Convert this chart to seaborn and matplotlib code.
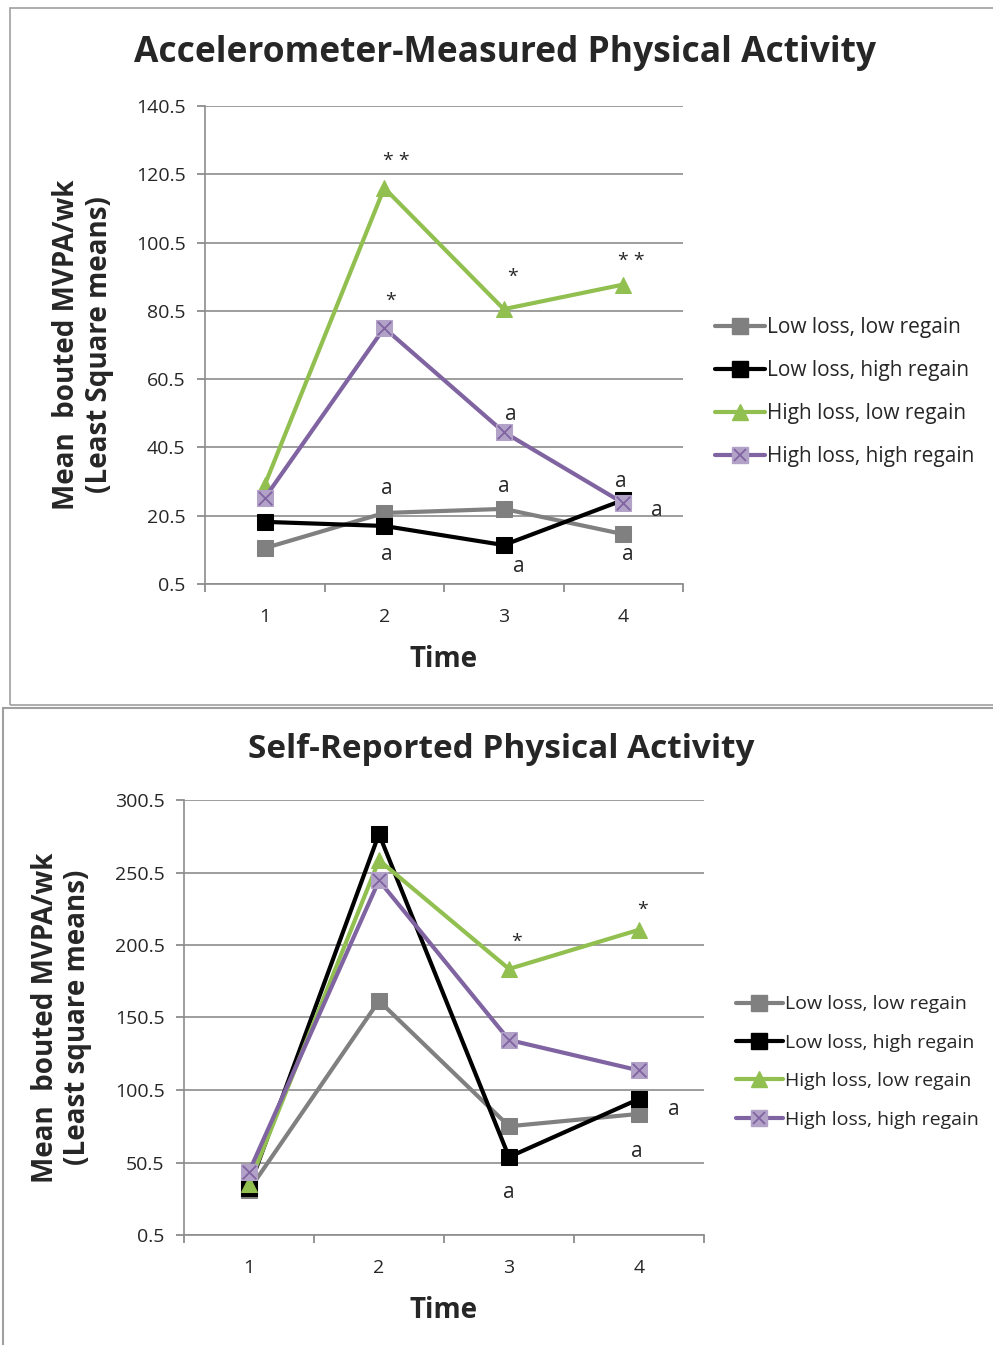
import pandas as pd
import matplotlib
matplotlib.use('Agg')
from matplotlib import pyplot as plt
from matplotlib.lines import Line2D
from matplotlib.patches import Rectangle
import seaborn as sns

sns.set_theme(style = 'white')
plt.rcParams['font.family'] = ['Open Sans', 'DejaVu Sans']

#data
groups = ['Low loss, low regain', 'Low loss, high regain', 'High loss, low regain', 'High loss, high regain']
times = [1, 2, 3, 4]

acc_low_low = [11.0, 21.3, 22.5, 15.1]
acc_low_high = [18.7, 17.5, 11.9, 25.1]
acc_high_low = [29.5, 116.5, 81.0, 88.2]
acc_high_high = [25.7, 75.5, 45.0, 24.2]

self_low_low = [31.5, 162.0, 75.5, 84.0]
self_low_high = [33.0, 277.0, 54.3, 94.3]
self_high_low = [35.5, 259.0, 184.0, 211.0]
self_high_high = [44.0, 245.0, 135.0, 114.0]

acc_ticks = [0.5, 20.5, 40.5, 60.5, 80.5, 100.5, 120.5, 140.5]
self_ticks = [0.5, 50.5, 100.5, 150.5, 200.5, 250.5, 300.5]

#annotations (text, time, value)
acc_notes = [('* *', 2.1, 124.5), ('*', 2.05, 83.5), ('*', 3.07, 90.5), ('* *', 4.07, 95.0),
             ('a', 3.06, 50.0), ('a', 2.02, 28.5), ('a', 3.0, 29.0), ('a', 3.98, 30.5),
             ('a', 4.28, 22.0), ('a', 2.02, 9.0), ('a', 3.13, 5.5), ('a', 4.04, 9.0)]
self_notes = [('*', 3.06, 203.0), ('*', 4.03, 225.0), ('a', 4.27, 87.0),
              ('a', 3.98, 58.0), ('a', 3.0, 30.0)]

colors = {groups[0]: '#808080', groups[1]: '#000000', groups[2]: '#92c050', groups[3]: '#8064a2'}
markers = {groups[0]: 's', groups[1]: 's', groups[2]: '^', groups[3]: 's'}
faces = {groups[0]: '#808080', groups[1]: '#000000', groups[2]: '#92c050', groups[3]: '#b3a2c7'}


def long_df(series):
    rows = []
    for g, vals in zip(groups, series):
        for t, v in zip(times, vals):
            rows.append({'Time': t, 'Group': g, 'Value': v})
    return pd.DataFrame(rows)


def draw_panel(ax, df, ticks, notes, ylabel):
    for g in groups:
        sub = df[df['Group'] == g]
        sns.lineplot(data = sub, x = 'Time', y = 'Value', ax = ax, color = colors[g],
                     marker = markers[g], markersize = 12, markerfacecolor = faces[g],
                     markeredgecolor = faces[g], linewidth = 3, legend = False)
    hh = df[df['Group'] == groups[3]]
    sns.scatterplot(data = hh, x = 'Time', y = 'Value', ax = ax, marker = 'x', s = 95,
                    color = '#8064a2', linewidth = 1.3, legend = False, zorder = 5)
    for txt, x, y in notes:
        ax.text(x, y, txt, ha = 'center', va = 'center', fontsize = 15 if txt == 'a' else 14)
    ax.set_xlim(0.5, 4.5)
    ax.set_ylim(ticks[0], ticks[-1])
    ax.set_yticks(ticks)
    ax.set_yticklabels([str(t) for t in ticks], fontsize = 14)
    ax.set_xticks([0.5, 1.5, 2.5, 3.5, 4.5])
    ax.set_xticklabels([])
    ax.set_xticks(times, minor = True)
    ax.set_xticklabels([str(t) for t in times], minor = True, fontsize = 14)
    ax.tick_params(axis = 'x', which = 'major', length = 6, color = '#888888', direction = 'out', bottom = True)
    ax.tick_params(axis = 'x', which = 'minor', length = 0, pad = 17, bottom = True)
    ax.tick_params(axis = 'y', length = 6, color = '#888888', direction = 'out', left = True, pad = 8)
    ax.yaxis.grid(True, color = '#8c8c8c', linewidth = 1.2)
    ax.xaxis.grid(False)
    for s in ['top', 'right']:
        ax.spines[s].set_visible(False)
    for s in ['left', 'bottom']:
        ax.spines[s].set_color('#8c8c8c')
        ax.spines[s].set_linewidth(1.2)
    ax.set_xlabel('Time', fontsize = 20, fontweight = 'bold', labelpad = 14)
    ax.set_ylabel(ylabel, fontsize = 20, fontweight = 'bold', labelpad = 16, linespacing = 1.15)


fig = plt.figure(figsize = (9.93, 13.45), dpi = 100)

#panel frames
fig.patches.append(Rectangle((10 / 993, 1 - 705 / 1345), 1.2, 697 / 1345, transform = fig.transFigure,
                             fill = False, edgecolor = '#a0a0a0', linewidth = 1.2))
fig.patches.append(Rectangle((3 / 993, -0.01), 1.2, 1 - 708 / 1345 + 0.01, transform = fig.transFigure,
                             fill = False, edgecolor = '#a0a0a0', linewidth = 1.5))

ax1 = fig.add_axes([205 / 993, 1 - 584 / 1345, 478 / 993, 478 / 1345])
draw_panel(ax1, long_df([acc_low_low, acc_low_high, acc_high_low, acc_high_high]), acc_ticks, acc_notes,
           'Mean  bouted MVPA/wk\n(Least Square means)')
fig.text(505 / 993, 1 - 53 / 1345, 'Accelerometer-Measured Physical Activity', ha = 'center', va = 'center',
         fontsize = 25.5, fontweight = 'bold')

ax2 = fig.add_axes([184 / 993, 1 - 1235 / 1345, 520 / 993, 435 / 1345])
draw_panel(ax2, long_df([self_low_low, self_low_high, self_high_low, self_high_high]), self_ticks, self_notes,
           'Mean  bouted MVPA/wk\n(Least square means)')
fig.text(501 / 993, 1 - 750 / 1345, 'Self-Reported Physical Activity', ha = 'center', va = 'center',
         fontsize = 24, fontweight = 'bold')

#legends
handles = []
for g in groups:
    handles.append(Line2D([0], [0], color = colors[g], marker = markers[g], markersize = 11, linewidth = 3,
                          markerfacecolor = faces[g], markeredgecolor = faces[g], label = g))
handles[3] = (handles[3], Line2D([0], [0], color = '#8064a2', marker = 'x', markersize = 9, linestyle = 'none',
                                 markeredgewidth = 1.3))
for y0, x0, gap, fs in [(392 / 1345, 715 / 993, 1.05, 15), (1062 / 1345, 736 / 993, 1.05, 14)]:
    leg = fig.legend(handles, groups, loc = 'center left', bbox_to_anchor = (x0, 1 - y0),
                     frameon = False, fontsize = fs, handlelength = 2.4, handletextpad = 0.1,
                     labelspacing = gap, borderaxespad = 0, borderpad = 0)

fig.savefig('out.png', dpi = 100)
